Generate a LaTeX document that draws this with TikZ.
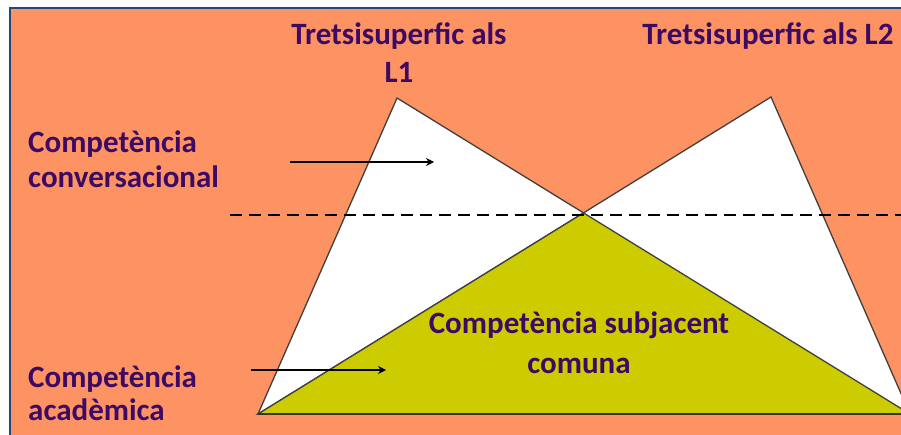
\documentclass[tikz,border=0pt]{standalone}
\usepackage{fontspec}
\setmainfont{Carlito}
\usetikzlibrary{arrows.meta}

\definecolor{bgorange}{RGB}{253,146,98}
\definecolor{frameblue}{RGB}{31,73,125}
\definecolor{commongreen}{RGB}{204,204,0}
\definecolor{labelpurple}{RGB}{60,10,100}

\tikzset{lbl/.style={inner sep=0pt, text=labelpurple, font=\fontsize{31}{35}\selectfont\bfseries},
         tri/.style={draw=black!75, fill=white, line width=1.3pt},
         pointer/.style={draw=black, line width=1.8pt, -{Stealth[length=8pt,width=8pt]}}}

\begin{document}
\begin{tikzpicture}[x=1pt, y=-1pt]
\useasboundingbox (0,0) rectangle (901,435);
\clip (0,0) rectangle (901,435);
\fill[white] (0,0) rectangle (901,435);
\fill[bgorange] (10,8) rectangle (930,450);
\draw[frameblue, line width=2.2pt] (10,450) -- (10,8) -- (930,8);
% the two surface triangles
\coordinate (apexL1) at (397,98);
\coordinate (apexL2) at (771,97);
\coordinate (baseW) at (258,414);
\coordinate (baseE) at (910,414);
\filldraw[tri] (apexL1) -- (baseW) -- (baseE) -- cycle;
\filldraw[tri] (apexL2) -- (baseW) -- (baseE) -- cycle;
\coordinate (meet) at (intersection of apexL1--baseE and apexL2--baseW);
\filldraw[draw=black!75, fill=commongreen, line width=1.3pt] (meet) -- (baseW) -- (baseE) -- cycle;
\draw[black!80!olive, line width=2.2pt] (baseW) -- (baseE);
\draw[black, line width=2pt, dash pattern=on 12pt off 7pt] (230,215) -- (901,215);
% labels
\node[lbl, align=center, anchor=base, font=\fontsize{31}{38}\selectfont\bfseries] (l1) at (399,83) {Tretsisuperfic als\\L1};
\node[lbl, anchor=base] (l2) at (768,45) {Tretsisuperfic als L2};
\node[lbl, align=left, anchor=base west] (conv) at (28,188) {Competència\\conversacional};
\node[lbl, align=left, anchor=base west, font=\fontsize{31}{33}\selectfont\bfseries] (acad) at (28,420) {Competència\\acadèmica};
\node[lbl, align=center, anchor=base, font=\fontsize{31}{40}\selectfont\bfseries] (comu) at (579,373) {Competència subjacent\\comuna};
% pointers
\coordinate (convS) at (290,162);
\coordinate (convE) at (434,162);
\coordinate (acadS) at (251,370);
\coordinate (acadE) at (386,370);
\draw[pointer] (convS) -- (convE);
\draw[pointer] (acadS) -- (acadE);
\end{tikzpicture}
\end{document}
